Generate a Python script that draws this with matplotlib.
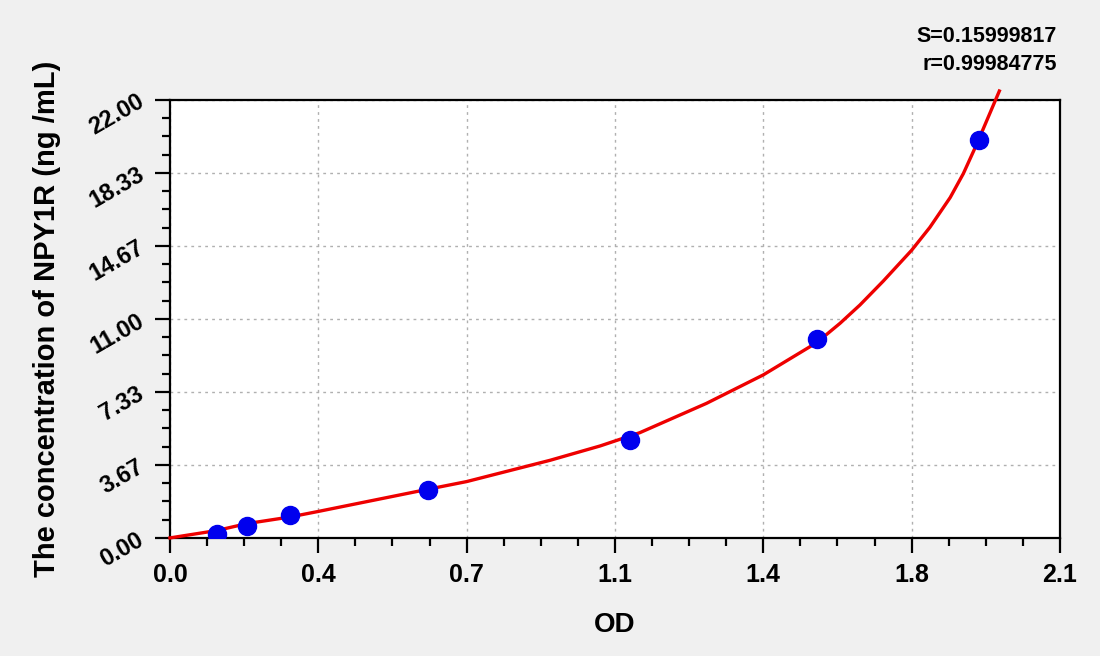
import matplotlib
matplotlib.use("Agg")
import matplotlib.pyplot as plt
import numpy as np
from matplotlib.ticker import MultipleLocator, FixedLocator, FixedFormatter

plt.rcParams['font.family'] = ['Liberation Sans', 'DejaVu Sans']
plt.rcParams['font.weight'] = 'bold'
plt.rcParams['xtick.labelsize'] = 18
plt.rcParams['ytick.labelsize'] = 17

# standard points (OD, concentration)
od = [0.110, 0.182, 0.283, 0.610, 1.085, 1.527, 1.910]
conc = [0.22, 0.60, 1.15, 2.41, 4.90, 9.99, 19.99]

# fitted curve
curve_od = [0.0, 0.11, 0.182, 0.283, 0.35, 0.61, 0.70, 0.897, 1.015, 1.109,
            1.266, 1.40, 1.526, 1.581, 1.628, 1.683, 1.750, 1.793, 1.841,
            1.872, 1.903, 1.927, 1.957]
curve_conc = [0.0, 0.37, 0.72, 1.05, 1.33, 2.45, 2.83, 3.90, 4.62, 5.29,
              6.76, 8.19, 9.81, 10.78, 11.70, 12.90, 14.45, 15.60, 17.10,
              18.30, 19.75, 20.95, 22.45]

x_ticks = [0.0, 0.35, 0.70, 1.05, 1.40, 1.75, 2.10]
x_labels = ['0.0', '0.4', '0.7', '1.1', '1.4', '1.8', '2.1']
y_ticks = [0.0, 22/6, 44/6, 11.0, 88/6, 110/6, 22.0]
y_labels = ['0.00', '3.67', '7.33', '11.00', '14.67', '18.33', '22.00']
stats = ['S=0.15999817', 'r=0.99984775']

fig = plt.figure(figsize=(11, 6.56), dpi=100)
fig.patch.set_facecolor('#f0f0f0')
ax = fig.add_axes([0.1545, 0.18, 0.8091, 0.6676])
ax.set_facecolor('white')

ax.plot(curve_od, curve_conc, color='#ee0000', lw=2.4, clip_on=False,
        zorder=3, solid_joinstyle='round')
ax.plot(od, conc, 'o', color='#0000ee', ms=13, zorder=4)

ax.set_xlim(0, 2.1)
ax.set_ylim(0, 22)
ax.xaxis.set_major_locator(FixedLocator(x_ticks))
ax.yaxis.set_major_locator(FixedLocator(y_ticks))
ax.xaxis.set_major_formatter(FixedFormatter(x_labels))
ax.yaxis.set_major_formatter(FixedFormatter(y_labels))
ax.xaxis.set_minor_locator(MultipleLocator(0.35 / 4))
ax.yaxis.set_minor_locator(MultipleLocator(22 / 24))

ax.tick_params(which='major', length=11, width=1.6)
ax.tick_params(which='minor', length=6, width=1.6)
ax.tick_params(axis='x', pad=7)
ax.tick_params(axis='y', pad=9, labelrotation=30)
for lab in ax.get_yticklabels():
    lab.set_ha('right')
    lab.set_va('center')
    lab.set_rotation_mode('anchor')

for s in ax.spines.values():
    s.set_linewidth(1.6)
    s.set_color('black')

ax.grid(True, which='major', color='#b0b0b0', ls=(0, (2, 3)), lw=1.0)

ax.set_xlabel('OD', fontsize=20, fontweight='bold', labelpad=18)
ax.set_ylabel('The concentration of NPY1R (ng /mL)', fontsize=21,
              fontweight='bold')
ax.yaxis.set_label_coords(-0.122, 0.5)

fig.text(0.961, 0.945, stats[0], ha='right', va='center', fontsize=15.5,
         fontweight='bold')
fig.text(0.961, 0.902, stats[1], ha='right', va='center', fontsize=15.5,
         fontweight='bold')

fig.savefig('out.png', dpi=100, facecolor=fig.get_facecolor())
